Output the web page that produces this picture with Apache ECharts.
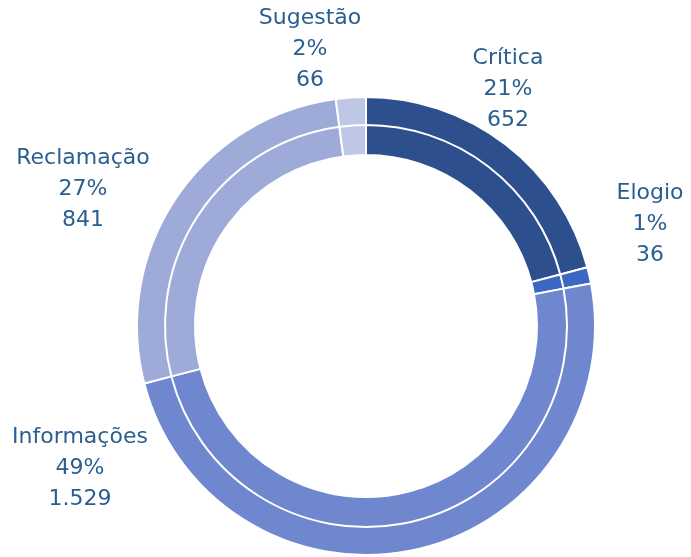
<!DOCTYPE html>
<html>
<head>
<meta charset="utf-8">
<script src="https://cdn.jsdelivr.net/npm/echarts@6/dist/echarts.min.js"></script>
<style>
  html, body { margin: 0; padding: 0; background: #fff; }
  #chart { width: 691px; height: 557px; }
</style>
</head>
<body>
<div id="chart"></div>
<script>
// tipos de manifestação
var categories = ['Crítica', 'Elogio', 'Informações', 'Reclamação', 'Sugestão'];
var values = [652, 36, 1529, 841, 66];
var colors = ['#2d4f8e', '#3c67c2', '#6e87cf', '#9eabd9', '#bfc7e6'];

// where each label block sits (center x, middle y)
var labelPos = [[508, 89], [650, 224], [80, 468], [83, 189], [310, 49]];

function fmtNum(n) {
    return String(n).replace(/\B(?=(\d{3})+(?!\d))/g, '.');
}

var data = [];
for (var i = 0; i < categories.length; i++) {
    data.push({ name: categories[i], value: values[i], itemStyle: { color: colors[i] } });
}

var myChart = echarts.init(document.getElementById('chart'));

var option = {
    animation: false,
    series: [
        {
            type: 'pie',
            center: [366, 326],
            radius: [200, 229],
            startAngle: 90,
            percentPrecision: 0,
            data: data,
            itemStyle: { borderColor: '#fff', borderWidth: 2 },
            labelLine: { show: false },
            label: {
                show: true,
                position: 'outside',
                overflow: 'none',
                formatter: function (p) {
                    return p.name + '\n' + Math.round(p.percent) + '%\n' + fmtNum(p.value);
                },
                color: '#2b5e90',
                fontFamily: 'DejaVu Sans',
                fontSize: 22,
                lineHeight: 31,
                align: 'center'
            },
            labelLayout: function (params) {
                var p = labelPos[params.dataIndex];
                return { x: p[0], y: p[1], align: 'center', verticalAlign: 'middle' };
            },
            emphasis: { disabled: true }
        },
        {
            type: 'pie',
            center: [366, 326],
            radius: [171, 201],
            startAngle: 90,
            data: data,
            itemStyle: { borderColor: '#fff', borderWidth: 2 },
            label: { show: false },
            labelLine: { show: false },
            emphasis: { disabled: true }
        }
    ]
};
myChart.setOption(option);
</script>
</body>
</html>
